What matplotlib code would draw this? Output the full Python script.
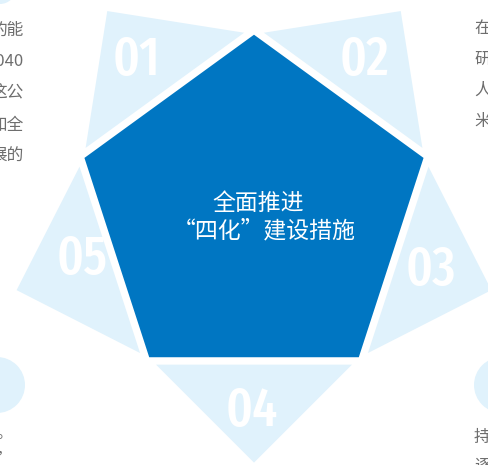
import numpy as np
import matplotlib
matplotlib.use("Agg")
import matplotlib.pyplot as plt
from matplotlib.patches import Polygon, Circle
from matplotlib import font_manager

# content
labels = ["01", "02", "03", "04", "05"]
title_lines = ["全面推进", "“四化”建设措施"]
left_text = ["的能", "2040", "这公", "和全", "展的"]
right_text = ["在", "研", "人", "米"]
bl_text = ["去。", "化”"]
br_text = ["持", "逐"]

# layout (pixels, origin top-left)
W, H = 488, 465
cx, cy, R = 254, 213, 180
gap, half = 6, 98
label_xy = [(136, 61), (364, 61), (431, 271), (252, 412), (82, 260)]

dark = "#0076C2"
light = "#E0F2FC"
gray = "#6E6E6E"
cjk = ["Noto Sans CJK SC", "DejaVu Sans"]

STRETCH = {"ultra-condensed": 4, "extra-condensed": 3, "condensed": 2, "semi-condensed": 1}


def narrow_font():
    # narrowest face available, medium weight preferred
    best = None
    for f in font_manager.fontManager.ttflist:
        nm = f.name.lower().replace(" ", "")
        st = f.stretch
        if isinstance(st, str):
            s = STRETCH.get(st.lower(), 0)
        else:
            s = max(0, (100 - int(st)) // 12)
        if "extracondensed" in nm or "ultracondensed" in nm:
            s = max(s, 3)
        elif "narrow" in nm or "condensed" in nm:
            s = max(s, 2)
        if s == 0 or str(f.style).lower() in ("italic", "oblique"):
            continue
        w = f.weight if isinstance(f.weight, int) else font_manager.weight_dict.get(f.weight, 400)
        score = s * 1000 - abs(w - 500)
        if best is None or score > best[0]:
            best = (score, f.fname)
    return best[1] if best else None


nf = narrow_font()
if nf:
    num_props = font_manager.FontProperties(fname=nf)
    num_size = 39
else:
    num_props = font_manager.FontProperties(family="DejaVu Sans")
    num_size = 31

fig = plt.figure(figsize=(W / 100, H / 100), dpi=100)
ax = fig.add_axes([0, 0, 1, 1])
ax.set_xlim(0, W)
ax.set_ylim(H, 0)
ax.axis("off")

# pentagon vertices, top first, clockwise on screen
ang = np.deg2rad(-90 + 72 * np.arange(5))
verts = np.column_stack([cx + R * np.cos(ang), cy + R * np.sin(ang)])

# right isosceles petals outside each edge
for i in range(5):
    a, b = verts[i - 1], verts[i]
    m = (a + b) / 2
    t = (b - a) / np.linalg.norm(b - a)
    n = m - np.array([cx, cy])
    n = n / np.linalg.norm(n)
    base = m + gap * n
    tri = [base - half * t, base + half * t, base + half * n]
    ax.add_patch(Polygon(tri, closed=True, color=light, lw=0, zorder=1))

ax.add_patch(Polygon(verts, closed=True, facecolor=dark, edgecolor="white", lw=2, zorder=2))

# petal numbers
for lab, (x, y) in zip(labels, label_xy):
    ax.text(x, y, lab, color="white", fontproperties=num_props, fontsize=num_size,
            ha="center", va="center", zorder=3)

ax.text(258, 203, title_lines[0], color="white", fontsize=16.5, family=cjk,
        ha="center", va="center", zorder=3)
ax.text(264, 231, title_lines[1], color="white", fontsize=16.5, family=cjk,
        ha="center", va="center", zorder=3)

# decorative badges at the corners
ax.add_patch(Circle((-3, 385), 28, color=light, lw=0, zorder=1))
ax.add_patch(Circle((502, 385), 28, color=light, lw=0, zorder=1))
ax.add_patch(Circle((0, -12), 16, color=light, lw=0, zorder=1))

# clipped side paragraphs
for k, s in enumerate(left_text):
    ax.text(24, 30 + 31.7 * k, s, color=gray, fontsize=12, family=cjk,
            ha="right", va="center", zorder=3)
for k, s in enumerate(right_text):
    ax.text(474, 28 + 31 * k, s, color=gray, fontsize=12, family=cjk,
            ha="left", va="center", zorder=3)
for k, s in enumerate(bl_text):
    ax.text(13, 433 + 27 * k, s, color=gray, fontsize=12, family=cjk,
            ha="right", va="center", zorder=3)
for k, s in enumerate(br_text):
    ax.text(474, 437 + 29 * k, s, color=gray, fontsize=12, family=cjk,
            ha="left", va="center", zorder=3)

fig.savefig("out.png", dpi=100)
